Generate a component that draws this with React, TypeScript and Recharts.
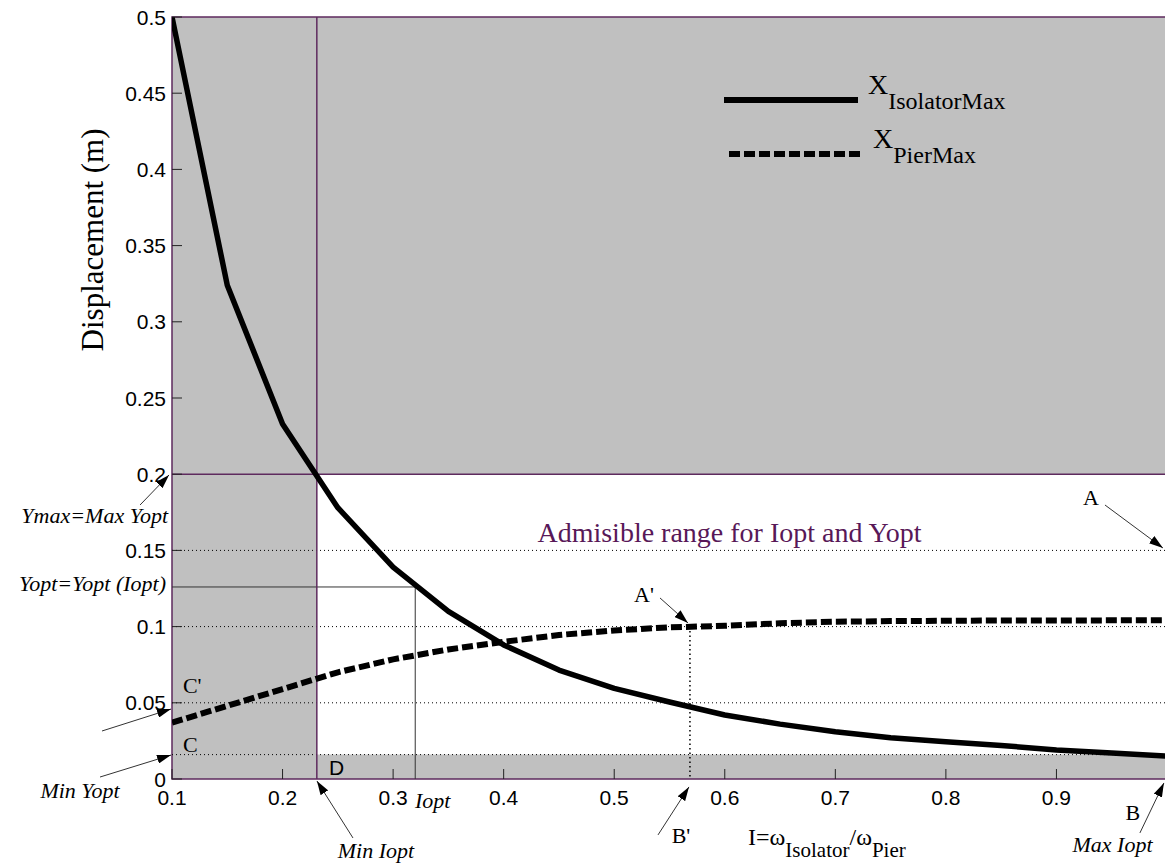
import React from "react";
import {
  LineChart,
  Line,
  XAxis,
  YAxis,
  ReferenceArea,
  ReferenceLine,
  ReferenceDot,
  Legend,
} from "recharts";

// frequency ratio I = wIsolator / wPier
const ratio = [
  0.1, 0.15, 0.2, 0.25, 0.3, 0.35, 0.4, 0.45, 0.5, 0.55, 0.6, 0.65, 0.7, 0.75,
  0.8, 0.85, 0.9, 0.95, 1.0,
];
// max isolator displacement (m)
const isolatorMax = [
  0.5, 0.324, 0.233, 0.178, 0.139, 0.11, 0.088, 0.0715, 0.0595, 0.0505, 0.042,
  0.036, 0.031, 0.027, 0.0245, 0.022, 0.019, 0.017, 0.015,
];
// max pier displacement (m)
const pierMax = [
  0.037, 0.048, 0.059, 0.07, 0.0785, 0.085, 0.09, 0.0945, 0.0975, 0.0995, 0.1005,
  0.1022, 0.1032, 0.1036, 0.1038, 0.104, 0.104, 0.1041, 0.1042,
];

const xTicks = [0.1, 0.2, 0.3, 0.4, 0.5, 0.6, 0.7, 0.8, 0.9];
const yTicks = [0, 0.05, 0.1, 0.15, 0.2, 0.25, 0.3, 0.35, 0.4, 0.45, 0.5];
const dottedLevels = [0.05, 0.1, 0.15];

// limits of the admissible region
const minIopt = 0.231;
const minYopt = 0.016;
const maxYopt = 0.2;
const iopt = 0.32;
const yoptAtIopt = 0.126;
const iAtPierPlateau = 0.5685;

const data = ratio.map((x, i) => ({
  x,
  isolator: isolatorMax[i],
  pier: pierMax[i],
}));

type Note = {
  x: number;
  y: number;
  text: string;
  kind: "title" | "letter" | "italic" | "sans";
  anchor: "start" | "middle" | "end";
};

const notes: Note[] = [
  { x: 0.6043, y: 0.1555, text: "Admisible range for Iopt and Yopt", kind: "title", anchor: "middle" },
  { x: 0.9312, y: 0.1798, text: "A", kind: "letter", anchor: "middle" },
  { x: 0.5269, y: 0.1161, text: "A'", kind: "letter", anchor: "middle" },
  { x: 0.5604, y: -0.042, text: "B'", kind: "letter", anchor: "middle" },
  { x: 0.9692, y: -0.0269, text: "B", kind: "letter", anchor: "middle" },
  { x: 0.1099, y: 0.0564, text: "C'", kind: "letter", anchor: "start" },
  { x: 0.1099, y: 0.0177, text: "C", kind: "letter", anchor: "start" },
  { x: 0.242, y: 0.0026, text: "D", kind: "sans", anchor: "start" },
  { x: 0.0964, y: 0.168, text: "Ymax=Max Yopt", kind: "italic", anchor: "end" },
  { x: 0.0946, y: 0.1234, text: "Yopt=Yopt (Iopt)", kind: "italic", anchor: "end" },
  { x: 0.0168, y: -0.0125, text: "Min Yopt", kind: "italic", anchor: "middle" },
  { x: 0.2845, y: -0.0518, text: "Min Iopt", kind: "italic", anchor: "middle" },
  { x: 0.3198, y: -0.019, text: "Iopt", kind: "italic", anchor: "start" },
  { x: 0.9507, y: -0.0479, text: "Max Iopt", kind: "italic", anchor: "middle" },
];

const arrows = [
  { from: { x: 0.0711, y: 0.1798 }, to: { x: 0.0973, y: 0.1995 } },
  { from: { x: 0.0367, y: 0.0315 }, to: { x: 0.0991, y: 0.0459 } },
  { from: { x: 0.0349, y: 0.0013 }, to: { x: 0.0991, y: 0.0157 } },
  { from: { x: 0.2637, y: -0.0387 }, to: { x: 0.2311, y: -0.0013 } },
  { from: { x: 0.5396, y: -0.0367 }, to: { x: 0.5676, y: -0.0052 } },
  { from: { x: 0.9755, y: -0.0354 }, to: { x: 0.9972, y: -0.0026 } },
  { from: { x: 0.5414, y: 0.1188 }, to: { x: 0.5667, y: 0.1024 } },
  { from: { x: 0.9439, y: 0.1798 }, to: { x: 0.9963, y: 0.1516 } },
];

const SERIF = '"Liberation Serif", "Times New Roman", serif';
const SANS = '"Liberation Sans", Arial, sans-serif';
const PURPLE = "#5e2a5e";
const GRAY = "#c0c0c0";

const noteStyle: Record<string, any> = {
  title: { fontFamily: SERIF, fontSize: 28, fill: "#581858" },
  letter: { fontFamily: SERIF, fontSize: 22, fill: "#000" },
  italic: { fontFamily: SERIF, fontSize: 22, fontStyle: "italic", fill: "#000" },
  sans: { fontFamily: SANS, fontSize: 21, fill: "#000" },
};

const BottomTick = (props: any) => {
  const { x, y, payload } = props;
  return (
    <g>
      <line x1={x} y1={y} x2={x} y2={y - 10} stroke="#222" />
      <text x={x} y={y + 26} textAnchor="middle" fontFamily={SANS} fontSize={21} fill="#000">
        {String(payload.value)}
      </text>
    </g>
  );
};

const TopTick = (props: any) => {
  const { x, y } = props;
  return <line x1={x} y1={y} x2={x} y2={y + 10} stroke="#222" />;
};

const LeftTick = (props: any) => {
  const { x, y, payload } = props;
  return (
    <g>
      <line x1={x} y1={y} x2={x + 10} y2={y} stroke="#222" />
      <text x={x - 6} y={y} dy="0.36em" textAnchor="end" fontFamily={SANS} fontSize={21} fill="#000">
        {String(payload.value)}
      </text>
    </g>
  );
};

const RightTick = (props: any) => {
  const { x, y } = props;
  return <line x1={x} y1={y} x2={x - 10} y2={y} stroke="#222" />;
};

const renderLegend = (props: any) => {
  const payload = props.payload || [];
  return (
    <svg width={320} height={130}>
      {payload.map((entry: any, i: number) => {
        const rowY = 40 + 54 * i;
        const dash = entry.payload?.strokeDasharray;
        return (
          <g key={entry.value}>
            <line
              x1={24 + 5 * i}
              x2={158 + 2 * i}
              y1={rowY}
              y2={rowY}
              stroke="#000"
              strokeWidth={6}
              strokeDasharray={dash}
            />
            <text x={168 + 5 * i} y={rowY - 6} fontFamily={SERIF} fontSize={28} fill="#000">
              X
              <tspan dy={15} fontSize={24}>
                {entry.value}
              </tspan>
            </text>
          </g>
        );
      })}
    </svg>
  );
};

const noteLabel = (n: Note) => (p: any) => {
  const vb = p.viewBox || {};
  return (
    <text x={vb.x} y={vb.y} textAnchor={n.anchor} {...noteStyle[n.kind]}>
      {n.text}
    </text>
  );
};

const xTitle = (p: any) => {
  const vb = p.viewBox || {};
  return (
    <text x={vb.x} y={vb.y} fontFamily={SERIF} fontSize={24} fill="#000">
      I=ω
      <tspan dy={12} fontSize={21}>Isolator</tspan>
      <tspan dy={-12}>/ω</tspan>
      <tspan dy={12} fontSize={21}>Pier</tspan>
    </text>
  );
};

const yTitle = (p: any) => {
  const vb = p.viewBox || {};
  return (
    <text
      x={vb.x}
      y={vb.y}
      textAnchor="middle"
      transform={`rotate(-90, ${vb.x}, ${vb.y})`}
      fontFamily={SERIF}
      fontSize={31}
      fill="#000"
    >
      Displacement (m)
    </text>
  );
};

const arrowShape = (p: any) => (
  <line
    x1={p.x1}
    y1={p.y1}
    x2={p.x2}
    y2={p.y2}
    stroke="#333"
    strokeWidth={1}
    markerEnd="url(#arrowHead)"
  />
);

export default function App() {
  return (
    <div
      style={{
        position: "absolute",
        left: 0,
        top: 0,
        width: 1165,
        height: 863,
        overflow: "hidden",
        background: "#fff",
      }}
    >
      <LineChart
        width={1172}
        height={863}
        data={data}
        margin={{ top: 17, right: 5, bottom: 0, left: 0 }}
      >
        <defs>
          <marker
            id="arrowHead"
            viewBox="0 0 14 9"
            refX={14}
            refY={4.5}
            markerWidth={14}
            markerHeight={9}
            orient="auto"
            markerUnits="userSpaceOnUse"
          >
            <path d="M0,0 L14,4.5 L0,9 z" fill="#000" />
          </marker>
        </defs>
        <XAxis
          dataKey="x"
          type="number"
          domain={[0.1, 1]}
          ticks={xTicks}
          height={84}
          axisLine={false}
          tickLine={false}
          tickSize={0}
          tickMargin={0}
          tick={<BottomTick />}
          allowDataOverflow
        />
        <XAxis
          xAxisId="top"
          orientation="top"
          type="number"
          domain={[0.1, 1]}
          ticks={xTicks}
          height={0}
          axisLine={false}
          tickLine={false}
          tickSize={0}
          tickMargin={0}
          tick={<TopTick />}
          allowDataOverflow
        />
        <YAxis
          type="number"
          domain={[0, 0.5]}
          ticks={yTicks}
          width={172}
          axisLine={false}
          tickLine={false}
          tickSize={0}
          tickMargin={0}
          tick={<LeftTick />}
          allowDataOverflow
        />
        <YAxis
          yAxisId="right"
          orientation="right"
          type="number"
          domain={[0, 0.5]}
          ticks={yTicks}
          width={0}
          axisLine={false}
          tickLine={false}
          tickSize={0}
          tickMargin={0}
          tick={<RightTick />}
          allowDataOverflow
        />

        <ReferenceArea x1={0.1} x2={1} y1={0} y2={0.5} fill={GRAY} fillOpacity={1} stroke="none" />
        <ReferenceArea x1={minIopt} x2={1} y1={minYopt} y2={maxYopt} fill="#fff" fillOpacity={1} stroke="none" />

        {dottedLevels.concat([minYopt]).map((v) => (
          <ReferenceLine key={`d${v}`} y={v} stroke="#000" strokeWidth={1} strokeDasharray="1 3" />
        ))}
        <ReferenceLine
          segment={[{ x: iAtPierPlateau, y: 0.1 }, { x: iAtPierPlateau, y: 0 }]}
          stroke="#000"
          strokeWidth={1.5}
          strokeDasharray="1.5 3"
        />
        <ReferenceLine
          segment={[{ x: 0.1, y: yoptAtIopt }, { x: iopt, y: yoptAtIopt }]}
          stroke="#333"
          strokeWidth={1}
        />
        <ReferenceLine
          segment={[{ x: iopt, y: yoptAtIopt }, { x: iopt, y: 0 }]}
          stroke="#333"
          strokeWidth={1}
        />
        <ReferenceLine y={maxYopt} stroke={PURPLE} strokeWidth={1.5} />
        <ReferenceLine x={minIopt} stroke={PURPLE} strokeWidth={1.5} />
        <ReferenceArea x1={0.1} x2={1} y1={0} y2={0.5} fill="none" stroke={PURPLE} strokeWidth={1.5} />

        <Line
          dataKey="isolator"
          name="IsolatorMax"
          type="linear"
          stroke="#000"
          strokeWidth={5.5}
          strokeLinejoin="round"
          dot={false}
          activeDot={false}
          isAnimationActive={false}
        />
        <Line
          dataKey="pier"
          name="PierMax"
          type="linear"
          stroke="#000"
          strokeWidth={6}
          strokeDasharray="11 4"
          dot={false}
          activeDot={false}
          isAnimationActive={false}
        />

        {arrows.map((a, i) => (
          <ReferenceLine
            key={`a${i}`}
            segment={[a.from, a.to]}
            ifOverflow="visible"
            shape={arrowShape}
          />
        ))}

        {notes.map((n) => (
          <ReferenceDot
            key={n.text}
            x={n.x}
            y={n.y}
            r={0}
            fill="none"
            stroke="none"
            ifOverflow="visible"
            label={noteLabel(n)}
          />
        ))}
        <ReferenceDot x={0.621} y={-0.0433} r={0} fill="none" stroke="none" ifOverflow="visible" label={xTitle} />
        <ReferenceDot x={0.0376} y={0.3537} r={0} fill="none" stroke="none" ifOverflow="visible" label={yTitle} />

        <Legend
          layout="horizontal"
          verticalAlign="middle"
          align="center"
          content={renderLegend}
          wrapperStyle={{ left: 700, top: 60, width: 320, height: 130 }}
        />
      </LineChart>
    </div>
  );
}
